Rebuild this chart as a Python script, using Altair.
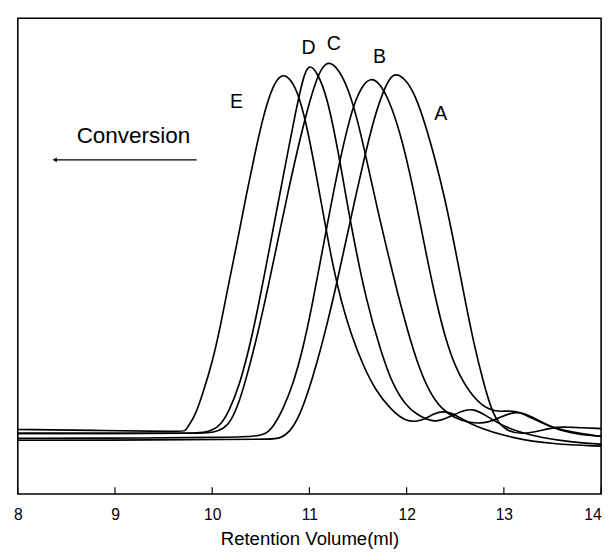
import altair as alt
import pandas as pd

# Retention volume (ml) and detector signal (arbitrary units)
vol_E = [8.00, 8.87, 9.67, 9.72, 9.75, 9.82, 9.90, 10.00, 10.09, 10.17, 10.26, 10.35, 10.44, 10.53, 10.62, 10.71,
         10.81, 10.90, 10.99, 11.08, 11.16, 11.24, 11.33, 11.43, 11.55, 11.68, 11.84, 11.99, 12.14, 12.29, 12.39,
         12.51, 12.69, 13.09, 13.50, 14.00]
sig_E = [66, 65, 64, 64, 69, 79, 102, 134, 174, 216, 259, 306, 349, 389, 417, 431,
         425, 406, 369, 321, 277, 234, 196, 163, 132, 106, 86, 74, 74, 83, 85,
         81, 69, 57, 51, 49]

vol_D = [8.00, 8.87, 9.77, 9.92, 10.00, 10.09, 10.17, 10.28, 10.38, 10.46, 10.53, 10.60, 10.68, 10.78, 10.86, 10.93,
         10.99, 11.08, 11.18, 11.28, 11.36, 11.43, 11.58, 11.74, 11.86, 11.99, 12.09, 12.29, 12.44, 12.59, 12.69,
         12.81, 12.99, 13.30, 13.70, 14.00]
sig_D = [62, 62, 62, 63, 65, 71, 84, 111, 149, 185, 221, 257, 299, 351, 392, 424,
         441, 432, 407, 359, 314, 274, 199, 144, 111, 91, 82, 72, 79, 86, 87,
         81, 69, 59, 53, 51]

vol_C = [8.00, 8.87, 9.87, 10.02, 10.12, 10.19, 10.28, 10.38, 10.48, 10.58, 10.68, 10.78, 10.88, 10.98, 11.06, 11.13,
         11.20, 11.30, 11.40, 11.50, 11.60, 11.70, 11.81, 11.91, 12.01, 12.12, 12.24, 12.36, 12.49, 12.64, 12.79,
         12.94, 13.12, 13.30, 13.50, 13.75, 14.00]
sig_C = [62, 62, 62, 63, 67, 74, 94, 129, 169, 214, 262, 309, 354, 394, 421, 437,
         443, 435, 415, 381, 337, 291, 245, 204, 167, 131, 103, 87, 78, 73, 72,
         77, 86, 79, 67, 61, 59]

vol_B = [8.00, 8.87, 10.17, 10.43, 10.55, 10.63, 10.73, 10.83, 10.93, 11.03, 11.11, 11.19, 11.28, 11.38, 11.46, 11.55,
         11.63, 11.72, 11.82, 11.93, 12.03, 12.12, 12.21, 12.31, 12.42, 12.54, 12.69, 12.84, 12.97, 13.12, 13.30,
         13.47, 13.70, 14.00]
sig_B = [57, 57, 58, 59, 61, 69, 87, 112, 147, 194, 237, 279, 326, 371, 400, 419,
         426, 421, 403, 371, 330, 287, 241, 194, 151, 121, 98, 86, 84, 86, 77,
         69, 63, 59]

vol_A = [8.00, 8.87, 10.28, 10.58, 10.71, 10.80, 10.88, 10.98, 11.08, 11.18, 11.28, 11.38, 11.48, 11.57, 11.66, 11.76,
         11.86, 11.99, 12.09, 12.19, 12.29, 12.39, 12.49, 12.59, 12.69, 12.79, 12.87, 12.94, 13.04, 13.19, 13.38,
         13.55, 13.75, 14.00]
sig_A = [55, 55, 56, 56, 57, 64, 76, 102, 135, 173, 215, 261, 307, 346, 383, 413,
         433, 425, 408, 379, 344, 304, 256, 204, 154, 114, 87, 73, 64, 61, 65,
         69, 68, 67]

tick_values = [8, 9, 10, 11, 12, 13, 14]

curve_labels = ["E", "D", "C", "B", "A"]
label_vol = [10.25, 10.99, 11.25, 11.72, 12.35]
label_sig = [401, 456, 460, 447, 389]

note_text = ["Conversion"]
note_vol = [9.19]
note_sig = [359]
arrow_start = [9.84]
arrow_end = [8.38]
arrow_sig = [342]

rows = []
for name, xs, ys in [("E", vol_E, sig_E), ("D", vol_D, sig_D), ("C", vol_C, sig_C),
                     ("B", vol_B, sig_B), ("A", vol_A, sig_A)]:
    for i, (x, y) in enumerate(zip(xs, ys)):
        rows.append({"sample": name, "volume": x, "signal": y, "order": i})
df = pd.DataFrame(rows)

labels_df = pd.DataFrame({"label": curve_labels, "volume": label_vol, "signal": label_sig})
note_df = pd.DataFrame({"label": note_text, "volume": note_vol, "signal": note_sig})
arrow_df = pd.DataFrame({"x1": arrow_start, "x2": arrow_end, "signal": arrow_sig})
ticks_df = pd.DataFrame({"volume": tick_values, "y0": [0] * len(tick_values), "y1": [7] * len(tick_values)})

xscale = alt.Scale(domain=[8, 14], nice=False, zero=False)
yscale = alt.Scale(domain=[0, 487], nice=False, zero=False)

FONT = "Liberation Sans"

lines = alt.Chart(df).mark_line(color="black", strokeWidth=1.7, interpolate="basis").encode(
    x=alt.X("volume:Q", scale=xscale,
            axis=alt.Axis(values=tick_values, format="d", tickSize=0, domain=False, grid=False,
                          labelFontSize=16, labelFont=FONT, labelColor="black", labelPadding=13,
                          labelAlign={"expr": "datum.value == 14 ? 'right' : 'center'"},
                          title="Retention Volume(ml)", titleFont=FONT, titleFontSize=19,
                          titleFontWeight="normal", titleColor="black", titlePadding=8)),
    y=alt.Y("signal:Q", scale=yscale, axis=None),
    detail="sample:N",
    order="order:Q",
)

ticks = alt.Chart(ticks_df).mark_rule(color="black", strokeWidth=1.2).encode(
    x=alt.X("volume:Q", scale=xscale),
    y=alt.Y("y0:Q", scale=yscale),
    y2="y1:Q",
)

labels = alt.Chart(labels_df).mark_text(font=FONT, fontSize=20, color="black").encode(
    x=alt.X("volume:Q", scale=xscale),
    y=alt.Y("signal:Q", scale=yscale),
    text="label:N",
)

note = alt.Chart(note_df).mark_text(font=FONT, fontSize=23, color="black", baseline="alphabetic").encode(
    x=alt.X("volume:Q", scale=xscale),
    y=alt.Y("signal:Q", scale=yscale),
    text="label:N",
)

arrow_line = alt.Chart(arrow_df).mark_rule(color="black", strokeWidth=1.3).encode(
    x=alt.X("x1:Q", scale=xscale),
    x2="x2:Q",
    y=alt.Y("signal:Q", scale=yscale),
)

arrow_head = alt.Chart(arrow_df).mark_point(shape="triangle-left", filled=True, color="black", size=25, opacity=1).encode(
    x=alt.X("x2:Q", scale=xscale),
    y=alt.Y("signal:Q", scale=yscale),
)

chart = alt.layer(lines, ticks, labels, note, arrow_line, arrow_head).properties(
    width=597, height=487,
    background="white",
    padding={"left": 5, "top": 4, "right": 0, "bottom": 0},
).configure_view(stroke="black", strokeWidth=1.6)

chart.save("out.html", embed_options={"renderer": "svg", "actions": False})
